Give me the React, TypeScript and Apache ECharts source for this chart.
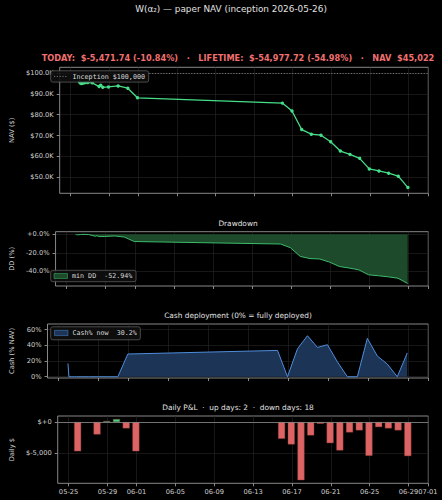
import { useEffect, useRef } from "react";
import * as echarts from "echarts";

// ---- data -------------------------------------------------------------
const INCEPTION_NAV = 100000;
const BASE_DATE = Date.UTC(2026, 4, 25); // 2026-05-25, x = 0 days

// NAV snapshots (UTC timestamps)
const navTimes = [
  "2026-05-25T22:20:00Z",
  "2026-05-26T00:40:00Z",
  "2026-05-26T03:00:00Z",
  "2026-05-26T06:00:00Z",
  "2026-05-26T10:00:00Z",
  "2026-05-26T14:00:00Z",
  "2026-05-26T19:00:00Z",
  "2026-05-27T06:00:00Z",
  "2026-05-27T23:00:00Z",
  "2026-05-28T03:00:00Z",
  "2026-05-28T08:00:00Z",
  "2026-05-28T22:20:00Z",
  "2026-05-29T22:20:00Z",
  "2026-05-30T22:20:00Z",
  "2026-05-31T22:20:00Z",
  "2026-06-15T22:20:00Z",
  "2026-06-16T22:20:00Z",
  "2026-06-17T22:20:00Z",
  "2026-06-18T22:20:00Z",
  "2026-06-19T22:20:00Z",
  "2026-06-20T22:20:00Z",
  "2026-06-21T22:20:00Z",
  "2026-06-22T22:20:00Z",
  "2026-06-23T22:20:00Z",
  "2026-06-24T22:20:00Z",
  "2026-06-25T22:20:00Z",
  "2026-06-26T22:20:00Z",
  "2026-06-27T22:20:00Z",
  "2026-06-28T22:20:00Z",
];

const navValues = [
  95670, 95150, 95000, 95100, 95300, 95400, 95450, 95300,
  93500, 94130, 93180, 93330, 93810, 92700, 88120,
  85560, 81750, 72860, 70640, 70160, 66990, 62540, 60950,
  59050, 53970, 53020, 51900, 50494.02, 45022.28,
];

// cash as % of NAV at each snapshot
const cashPct = [
  17, 0, 0, 0, 0, 0, 0, 0,
  0, 0, 0, 0, 0, 0, 29,
  33.6, 0, 35.7, 52.3, 37.4, 40.9, 19, 0,
  0, 49, 26.4, 16.2, 0, 30.2,
];

// daily P&L bars
const dailyTimes = [
  "2026-05-25T22:20:00Z",
  "2026-05-27T22:20:00Z",
  "2026-05-28T22:20:00Z",
  "2026-05-29T22:20:00Z",
  "2026-05-30T22:20:00Z",
  "2026-05-31T22:20:00Z",
  "2026-06-15T22:20:00Z",
  "2026-06-16T22:20:00Z",
  "2026-06-17T22:20:00Z",
  "2026-06-18T22:20:00Z",
  "2026-06-19T22:20:00Z",
  "2026-06-20T22:20:00Z",
  "2026-06-21T22:20:00Z",
  "2026-06-22T22:20:00Z",
  "2026-06-23T22:20:00Z",
  "2026-06-24T22:20:00Z",
  "2026-06-25T22:20:00Z",
  "2026-06-26T22:20:00Z",
  "2026-06-27T22:20:00Z",
  "2026-06-28T22:20:00Z",
];

const dailyPnl = [
  -4700, -2000, 170, 480, -1020, -4700,
  -2690, -3600, -9350, -2150, -270, -3390, -4570,
  -1670, -1340, -5430, -810, -1020, -1340, -5471.74,
];

// x tick dates (MM-DD, year 2026)
const xTickLabels = [
  "05-25", "05-29", "06-01", "06-05", "06-09", "06-13",
  "06-17", "06-21", "06-25", "06-29", "07-01",
];

const navTicks = [50000, 60000, 70000, 80000, 90000, 100000];
const ddTicks = [-40, -20, 0];
const cashTicks = [0, 20, 40, 60];
const dailyTicks = [-5000, 0];

// ---- derived ----------------------------------------------------------
const DAY = 86400000;
const dayOf = (iso: string) => (Date.parse(iso) - BASE_DATE) / DAY;
const xTicks = xTickLabels.map((d) => dayOf(`2026-${d}T00:00:00Z`));
const dateLabel = (v: number) => {
  const d = new Date(BASE_DATE + Math.round(v * DAY));
  const mm = String(d.getUTCMonth() + 1).padStart(2, "0");
  const dd = String(d.getUTCDate()).padStart(2, "0");
  return `${mm}-${dd}`;
};

const navX = navTimes.map(dayOf);
const navData = navX.map((x, i) => [x, navValues[i]]);
let runPeak = -Infinity;
const ddData = navX.map((x, i) => {
  runPeak = Math.max(runPeak, navValues[i]);
  return [x, (navValues[i] / runPeak - 1) * 100];
});
const cashData = navX.map((x, i) => [x, cashPct[i]]);
const dailyData = dailyTimes.map((t, i) => [dayOf(t), dailyPnl[i]]);

const minDD = Math.min(...ddData.map((d) => d[1]));
const cashNow = cashPct[cashPct.length - 1];
const navLast = navValues[navValues.length - 1];
const navPrev = navValues[navValues.length - 2];
const today = navLast - navPrev;
const lifetime = navLast - INCEPTION_NAV;
const upDays = dailyPnl.filter((v) => v > 0).length;
const downDays = dailyPnl.filter((v) => v < 0).length;

const money = (v: number, digits = 2) =>
  "$" +
  v.toLocaleString("en-US", {
    minimumFractionDigits: digits,
    maximumFractionDigits: digits,
  });
const pct = (v: number) => `${v >= 0 ? "+" : ""}${v.toFixed(2)}%`;

const headerText =
  `TODAY:  ${money(today)} (${pct((today / navPrev) * 100)})   \u00b7   ` +
  `LIFETIME:  ${money(lifetime)} (${pct((lifetime / INCEPTION_NAV) * 100)})   \u00b7   ` +
  `NAV  ${money(navLast, 0)}`;

// ---- styling ----------------------------------------------------------
const SANS = "DejaVu Sans";
const MONO = "DejaVu Sans Mono";
const TICK_COLOR = "#d2d2d2";
const FRAME = "#a9a9a9";
const GRID_LINE = "#262626";
const NAV_GREEN = "#46de88";
const DD_LINE = "#3dbb6b";
const DD_FILL = "#1c4a2b";
const CASH_LINE = "#4f8ddb";
const CASH_FILL = "#1c3455";
const BAR_RED = "#dd6464";
const BAR_GREEN = "#3fd67f";

const X_MIN = -1.12;
const X_MAX = 37.04;
const PLOT_LEFT = 47.5;
const PLOT_WIDTH = 380.8;

const grids = [
  { top: 67.3, height: 126 },
  { top: 231.7, height: 54.3 },
  { top: 324, height: 54 },
  { top: 416, height: 67.3 },
].map((g) => ({
  left: PLOT_LEFT,
  width: PLOT_WIDTH,
  top: g.top,
  height: g.height,
  show: true,
  borderColor: FRAME,
  borderWidth: 0.8,
  backgroundColor: "transparent",
}));

const tickStyle = { length: 3, lineStyle: { color: FRAME, width: 0.8 } };
const labelFont = { color: TICK_COLOR, fontSize: 6.7, fontFamily: SANS };
const splitStyle = { show: true, lineStyle: { color: GRID_LINE, width: 0.6 } };

const xAxisFor = (gridIndex: number, showLabels: boolean) => ({
  type: "value",
  gridIndex,
  min: X_MIN,
  max: X_MAX,
  axisLine: { show: false, onZero: false },
  axisTick: { show: true, customValues: xTicks, ...tickStyle },
  axisLabel: {
    show: showLabels,
    customValues: xTicks,
    formatter: (v: number) => dateLabel(v),
    margin: 5,
    ...labelFont,
  },
  splitLine: splitStyle,
});

const yAxisFor = (
  gridIndex: number,
  min: number,
  max: number,
  ticks: number[],
  fmt: (v: number) => string,
  name: string,
  nameGap: number
) => ({
  type: "value",
  gridIndex,
  min,
  max,
  name,
  nameLocation: "middle",
  nameGap,
  nameTextStyle: { color: TICK_COLOR, fontSize: 6.7, fontFamily: SANS },
  axisLine: { show: false, onZero: false },
  axisTick: { show: true, customValues: ticks, ...tickStyle },
  axisLabel: { customValues: ticks, formatter: fmt, margin: 6, ...labelFont },
  splitLine: splitStyle,
});

const text = (
  x: number,
  y: number,
  str: string,
  size: number,
  fill: string,
  opts: Record<string, unknown> = {}
) => ({
  type: "text",
  x,
  y,
  z: 100,
  silent: true,
  style: {
    text: str,
    fill,
    fontSize: size,
    fontFamily: SANS,
    align: "center",
    verticalAlign: "middle",
    ...opts,
  },
});

const legendFrame = (x: number, y: number, w: number, h: number) => ({
  type: "rect",
  z: 100,
  silent: true,
  shape: { x, y, width: w, height: h, r: 2 },
  style: { fill: "rgba(14,14,14,0.9)", stroke: "#5c5c5c", lineWidth: 0.8 },
});

const legendText = (x: number, y: number, str: string) =>
  text(x, y, str, 6.7, "#dcdcdc", { align: "left", fontFamily: MONO });

const graphics = [
  text(231, 8.5, "W(α₂) — paper NAV (inception 2026-05-26)", 8.9, "#e2e2e2"),
  text(238, 57.5, headerText, 8.2, "#f07070", { fontWeight: "bold" }),
  text(238, 223.5, "Drawdown", 7.4, "#e2e2e2"),
  text(238, 315.8, "Cash deployment (0% = fully deployed)", 7.4, "#e2e2e2"),
  text(
    238,
    407.8,
    `Daily P&L  \u00b7  up days: ${upDays}  \u00b7  down days: ${downDays}`,
    7.4,
    "#e2e2e2"
  ),
  // NAV legend
  legendFrame(50.7, 70.8, 98, 11.3),
  {
    type: "line",
    z: 101,
    silent: true,
    shape: { x1: 54, y1: 76.4, x2: 67.5, y2: 76.4 },
    style: { stroke: "#8c8c8c", lineWidth: 0.8, lineDash: [1.2, 1.6] },
  },
  legendText(72.5, 76.5, `Inception ${money(INCEPTION_NAV, 0)}`),
  // drawdown legend
  legendFrame(50.7, 270.3, 85.3, 11.4),
  {
    type: "rect",
    z: 101,
    silent: true,
    shape: { x: 54, y: 273.5, width: 13.5, height: 5 },
    style: { fill: DD_FILL, stroke: DD_LINE, lineWidth: 0.5 },
  },
  legendText(72, 276.1, `min DD  ${minDD.toFixed(2)}%`),
  // cash legend
  legendFrame(50.7, 326.8, 89.6, 13),
  {
    type: "rect",
    z: 101,
    silent: true,
    shape: { x: 54.5, y: 330.4, width: 13.5, height: 5.2 },
    style: { fill: CASH_FILL, stroke: CASH_LINE, lineWidth: 0.5 },
  },
  legendText(72.4, 333.3, `Cash% now  ${cashNow.toFixed(1)}%`),
];

const option = {
  animation: false,
  backgroundColor: "#000000",
  grid: grids,
  xAxis: [xAxisFor(0, false), xAxisFor(1, false), xAxisFor(2, false), xAxisFor(3, true)],
  yAxis: [
    yAxisFor(
      0,
      42273,
      102749,
      navTicks,
      (v: number) => `$${(v / 1000).toFixed(1)}K`,
      "NAV ($)",
      36
    ),
    yAxisFor(
      1,
      -55.59,
      2.647,
      ddTicks,
      (v: number) => `${v >= 0 ? "+" : ""}${v.toFixed(1)}%`,
      "DD (%)",
      32
    ),
    yAxisFor(2, -1.6, 67.3, cashTicks, (v: number) => `${v}%`, "Cash (% NAV)", 23),
    yAxisFor(
      3,
      -9847,
      972,
      dailyTicks,
      (v: number) => (v === 0 ? "$+0" : "$" + v.toLocaleString("en-US")),
      "Daily $",
      33.5
    ),
  ],
  series: [
    {
      type: "line",
      xAxisIndex: 0,
      yAxisIndex: 0,
      data: navData,
      symbol: "circle",
      symbolSize: 3.4,
      showSymbol: true,
      lineStyle: { color: NAV_GREEN, width: 1.3 },
      itemStyle: { color: NAV_GREEN },
      emphasis: { disabled: true },
      z: 3,
      markLine: {
        silent: true,
        symbol: ["none", "none"],
        label: { show: false },
        lineStyle: { color: "#8c8c8c", width: 0.8, type: [1.2, 1.6] },
        data: [{ yAxis: INCEPTION_NAV }],
      },
    },
    {
      type: "line",
      xAxisIndex: 1,
      yAxisIndex: 1,
      data: ddData,
      symbol: "none",
      lineStyle: { color: DD_LINE, width: 1 },
      areaStyle: { color: DD_FILL, opacity: 1 },
      emphasis: { disabled: true },
    },
    {
      type: "line",
      xAxisIndex: 2,
      yAxisIndex: 2,
      data: cashData,
      symbol: "none",
      lineStyle: { color: CASH_LINE, width: 1 },
      areaStyle: { color: CASH_FILL, opacity: 1 },
      emphasis: { disabled: true },
    },
    {
      type: "bar",
      xAxisIndex: 3,
      yAxisIndex: 3,
      data: dailyData,
      barWidth: 7,
      itemStyle: {
        color: (p: any) => (p.value[1] >= 0 ? BAR_GREEN : BAR_RED),
        borderColor: "#8a3a3a",
        borderWidth: 0.4,
      },
      emphasis: { disabled: true },
      markLine: {
        silent: true,
        symbol: ["none", "none"],
        label: { show: false },
        lineStyle: { color: "#8a8a8a", width: 0.8, type: "solid" },
        data: [{ yAxis: 0 }],
      },
    },
  ],
  graphic: graphics,
};

export default function App() {
  const ref = useRef<HTMLDivElement>(null);
  useEffect(() => {
    if (!ref.current) return;
    const chart = echarts.init(ref.current, null, { renderer: "svg" });
    chart.setOption(option as any);
    return () => chart.dispose();
  }, []);
  return (
    <div
      ref={ref}
      style={{
        position: "absolute",
        left: 0,
        top: 0,
        width: 442,
        height: 500,
        background: "#000",
      }}
    />
  );
}
